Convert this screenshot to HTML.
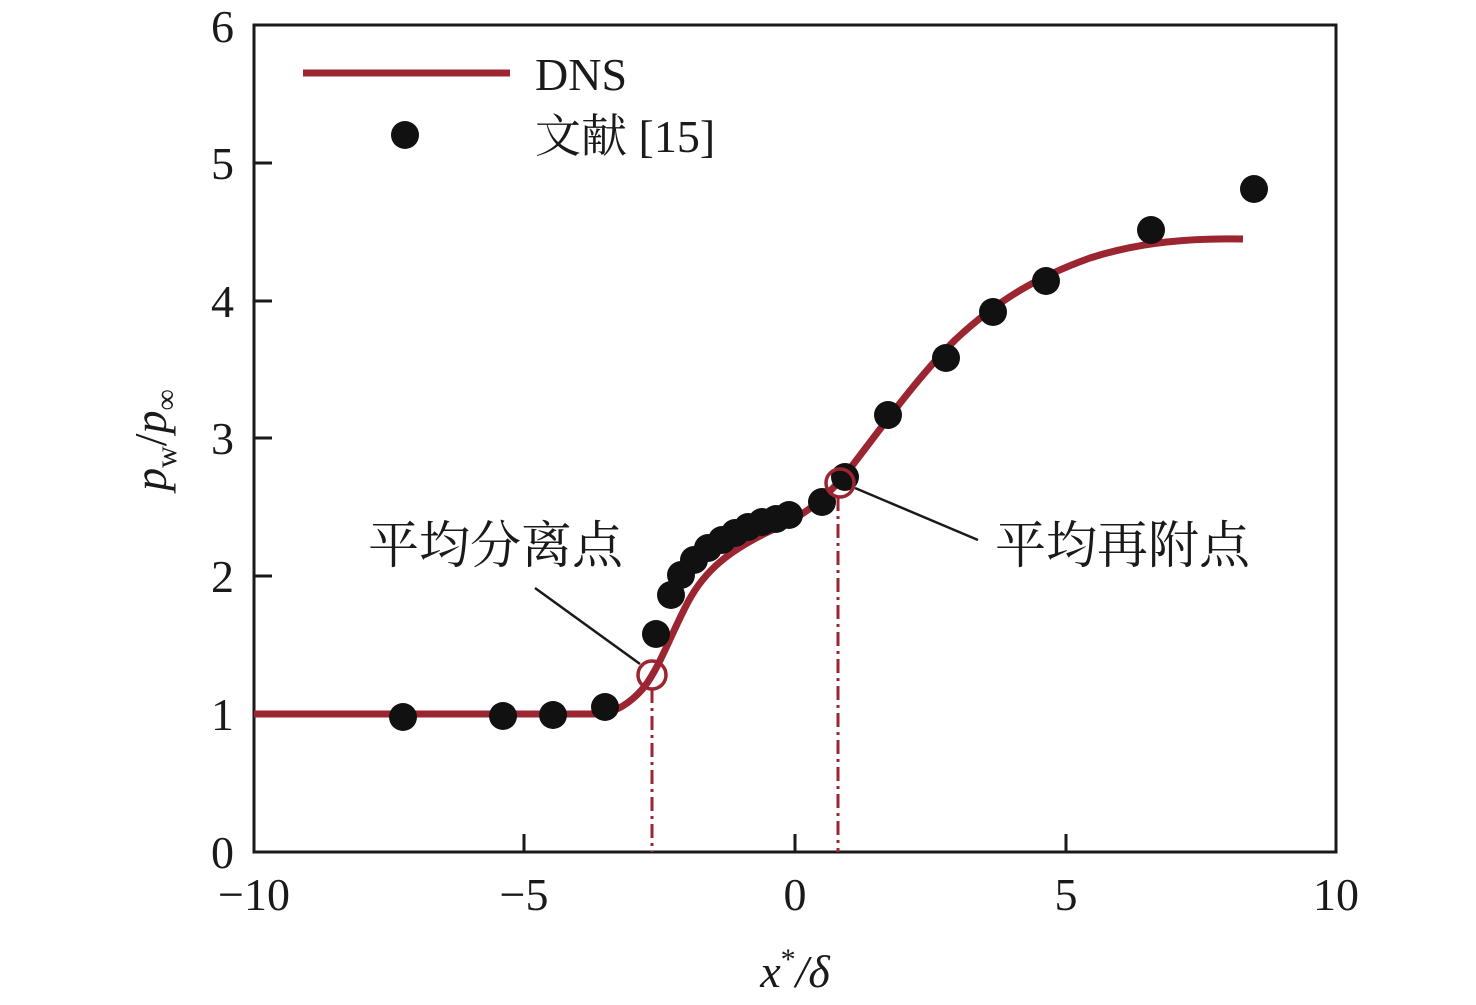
<!DOCTYPE html>
<html><head><meta charset="utf-8"><style>
html,body{margin:0;padding:0;background:#fff;}
svg{display:block;}
text{font-family:"Liberation Serif","Noto Serif CJK SC",serif;fill:#1a1a1a;}
.cj{font-family:"Liberation Serif","Noto Serif CJK SC",serif;}
</style></head><body>
<svg width="1476" height="1005" viewBox="0 0 1476 1005" xmlns="http://www.w3.org/2000/svg">
<rect x="254" y="25" width="1082" height="827" fill="none" stroke="#1a1a1a" stroke-width="3"/>
<g stroke="#1a1a1a" stroke-width="3">
<line x1="524" y1="852" x2="524" y2="834"/><line x1="795" y1="852" x2="795" y2="834"/><line x1="1066" y1="852" x2="1066" y2="834"/>
<line x1="254" y1="714" x2="272" y2="714"/><line x1="254" y1="576" x2="272" y2="576"/><line x1="254" y1="438" x2="272" y2="438"/>
<line x1="254" y1="301" x2="272" y2="301"/><line x1="254" y1="163" x2="272" y2="163"/>
</g>
<g font-size="46" text-anchor="end">
<text x="234" y="868">0</text><text x="234" y="730">1</text><text x="234" y="592">2</text><text x="234" y="454">3</text><text x="234" y="317">4</text><text x="234" y="179">5</text><text x="234" y="42">6</text>
</g>
<g font-size="46" text-anchor="middle">
<text x="254" y="910">−10</text><text x="524" y="910">−5</text><text x="795" y="910">0</text><text x="1066" y="910">5</text><text x="1336" y="910">10</text>
</g>
<text x="795" y="987" font-size="46" text-anchor="middle" font-style="italic">x<tspan dy="-18" font-size="30" font-style="normal">*</tspan><tspan dy="18">/δ</tspan></text>
<text transform="translate(166,440) rotate(-90)" font-size="46" text-anchor="middle"><tspan font-style="italic">p</tspan><tspan font-size="30" dy="10">w</tspan><tspan dy="-10">/</tspan><tspan font-style="italic">p</tspan><tspan font-size="30" dy="10">∞</tspan></text>
<path fill="none" stroke="#9b2530" stroke-width="7" stroke-linejoin="round" d="M254,714 L595,714 C615,714 632,702 645,686 C660,666 672,632 688,602 C705,570 730,550 770,531 C805,516 825,498 845,475 C880,430 915,380 955,340 C1000,298 1040,276 1090,258 C1140,242 1190,238 1243,239"/>
<g stroke="#9b2530" stroke-width="3" stroke-dasharray="14,5,3,5">
<line x1="652" y1="689" x2="652" y2="852"/><line x1="838" y1="497" x2="838" y2="852"/>
</g>
<g stroke="#1a1a1a" stroke-width="2.5">
<line x1="535" y1="588" x2="640" y2="664"/><line x1="855" y1="488" x2="978" y2="540"/>
</g>
<g fill="#111">
<circle cx="403" cy="717" r="14"/><circle cx="503" cy="716" r="14"/><circle cx="553" cy="715" r="14"/><circle cx="605" cy="707" r="14"/>
<circle cx="656" cy="634" r="14"/><circle cx="671" cy="595" r="14"/><circle cx="681" cy="575" r="14"/><circle cx="694" cy="560" r="14"/>
<circle cx="708" cy="548" r="14"/><circle cx="722" cy="540" r="14"/><circle cx="735" cy="533" r="14"/><circle cx="748" cy="527" r="14"/>
<circle cx="762" cy="522" r="14"/><circle cx="776" cy="519" r="14"/><circle cx="789" cy="515" r="14"/><circle cx="822" cy="502" r="14"/>
<circle cx="845" cy="477" r="14"/><circle cx="888" cy="415" r="14"/><circle cx="946" cy="358" r="14"/><circle cx="993" cy="312" r="14"/>
<circle cx="1046" cy="281" r="14"/><circle cx="1151" cy="230" r="14"/><circle cx="1254" cy="189" r="14"/>
<circle cx="405" cy="135" r="14"/>
</g>
<g fill="none" stroke="#9b2530" stroke-width="3.5">
<circle cx="652" cy="675" r="14"/><circle cx="840" cy="483" r="14"/>
</g>
<line x1="303" y1="73" x2="510" y2="73" stroke="#9b2530" stroke-width="7"/>
<text x="535" y="90" font-size="46">DNS</text>
<text x="535" y="152" font-size="46" class="cj">文献 [15]</text>
<text x="368" y="563" font-size="51" class="cj">平均分离点</text>
<text x="995" y="563" font-size="51" class="cj">平均再附点</text>
</svg>
</body></html>
